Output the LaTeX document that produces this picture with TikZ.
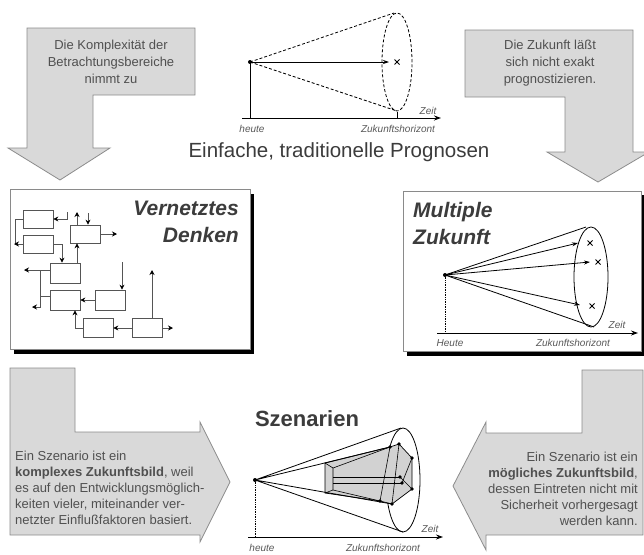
\documentclass[tikz,border=0pt]{standalone}
\usepackage{fontspec}
\setmainfont{Liberation Sans}
\usetikzlibrary{arrows.meta}
\definecolor{arrowfill}{HTML}{D9D9D9}
\definecolor{arrowline}{HTML}{8C8C8C}
\definecolor{txt}{HTML}{505050}
\definecolor{boxline}{HTML}{8A8A8A}
\definecolor{ttlcol}{HTML}{3C3C3C}
\definecolor{wirecol}{HTML}{555555}
\tikzset{
  xmark/.pic={\draw[line width=0.8pt] (-2.5,-2.5) -- (2.5,2.5) (-2.5,2.5) -- (2.5,-2.5);}
}
\begin{document}
\begin{tikzpicture}[x=1pt,y=-1pt,
  bigarrow/.style={fill=arrowfill, draw=arrowline, line width=0.8pt, line join=miter},
  arrowtext/.style={font=\fontsize{13}{17}\selectfont, text=txt, inner sep=0pt},
  panel/.style={fill=white, draw=boxline, line width=0.8pt},
  blk/.style={draw=wirecol, fill=white, line width=0.7pt, minimum width=30pt, minimum height=18pt, inner sep=0pt},
  wire/.style={draw=wirecol, line width=0.7pt},
  warr/.style={wire, -{Stealth[length=5pt,width=5pt,color=black]}},
  axisline/.style={line width=0.9pt, -{Stealth[length=7pt,width=5pt]}},
  cone/.style={line width=0.8pt},
  lbl/.style={font=\itshape\fontsize{10}{12}\selectfont, text=gray!70!black, inner sep=0pt},
  ttl/.style={font=\bfseries\itshape\fontsize{21}{27}\selectfont, text=ttlcol, inner sep=0pt},
  dot/.style={fill=black}
]
\useasboundingbox (0,0) rectangle (644,554);
\fill[white] (0,0) rectangle (644,554);

% ---------------- big grey arrows ----------------
\draw[bigarrow] (27,28) -- (195,28) -- (195,95) -- (93,95) -- (93,148) -- (110,148) -- (60,180) -- (8,148) -- (27,148) -- cycle;
\node[arrowtext, align=center] (tlt) at (111,62) {Die Komplexität der\\Betrachtungsbereiche\\nimmt zu};

\draw[bigarrow] (465,30) -- (633,30) -- (633,152) -- (649,152) -- (598,182) -- (547,152) -- (565,152) -- (565,97) -- (465,97) -- cycle;
\node[arrowtext, align=center] (trt) at (550,63) {Die Zukunft läßt\\sich nicht exakt\\prognostizieren.};

\draw[bigarrow] (10,368) -- (75,368) -- (75,432) -- (200,432) -- (200,422) -- (230,482) -- (200,542) -- (200,535) -- (10,535) -- cycle;
\node[arrowtext, align=left, anchor=west, font=\fontsize{13}{16}\selectfont] (blt) at (15,488) {Ein Szenario ist ein\\\textbf{komplexes Zukunftsbild}, weil\\es auf den Entwicklungsmöglich-\\keiten vieler, miteinander ver-\\netzter Einflußfaktoren basiert.};

\draw[bigarrow] (643,370) -- (643,535) -- (486,535) -- (486,550) -- (453,486) -- (486,422) -- (486,433) -- (582,433) -- (582,370) -- cycle;
\node[arrowtext, align=right, anchor=east, font=\fontsize{13}{16}\selectfont] (brt) at (638,489) {Ein Szenario ist ein\\\textbf{mögliches Zukunftsbild},\\dessen Eintreten nicht mit\\Sicherheit vorhergesagt\\werden kann.};

% ---------------- top chart ----------------
\coordinate (t0) at (250,62);
\coordinate (tE) at (397,62);
\coordinate (tTop) at (394,13);
\coordinate (tBot) at (397,111);
\coordinate (tAxS) at (242,118);
\coordinate (tAxE) at (441,118);
\coordinate (tFoot) at (250,118);
\coordinate (tTickA) at (397,112);
\coordinate (tTickB) at (397,118);
\coordinate (tHead) at (389,62);
\draw[densely dashed, line width=0.8pt] (tE) ellipse [x radius=15pt, y radius=49pt];
\draw[densely dashed, line width=0.8pt] (t0) -- (tTop) (t0) -- (tBot);
\draw[cone, -{Stealth[length=6pt,width=4pt]}] (t0) -- (tHead);
\pic at (tE) {xmark};
\draw[line width=0.8pt] (t0) -- (tFoot);
\draw[line width=0.8pt] (tTickA) -- (tTickB);
\draw[axisline] (tAxS) -- (tAxE);
\fill (t0) circle (2pt);
\node[lbl] (th) at (252,129) {heute};
\node[lbl] (tz) at (398,129) {Zukunftshorizont};
\node[lbl] (tzeit) at (428,111) {Zeit};
\node[font=\fontsize{20.5}{24}\selectfont, text=ttlcol, inner sep=0pt] (ttitle) at (339,152) {Einfache, traditionelle Prognosen};

% ---------------- panel 1: Vernetztes Denken ----------------
\fill[black] (14,194) rectangle (254,354);
\draw[panel] (10,189) rectangle (250,349);
\node[ttl, align=right, anchor=north east] (vd) at (239,201) {Vernetztes\\Denken};

\node[blk] (n1) at (38,219) {};
\node[blk] (n2) at (38,244) {};
\node[blk] (n3) at (85,234) {};
\node[blk, minimum height=20pt] (n4) at (65,273) {};
\node[blk, minimum height=20pt] (n5) at (65,300) {};
\node[blk, minimum height=20pt] (n6) at (110,300) {};
\node[blk, minimum height=19pt] (n7) at (98,328) {};
\node[blk, minimum height=19pt] (n8) at (147,328) {};

\coordinate (c1) at (67,212);
\coordinate (c2) at (77,212);
\coordinate (c3) at (88,213);
\coordinate (c4) at (117,234);
\coordinate (c5) at (15,219);
\coordinate (c6) at (14,244);
\coordinate (c7) at (62,244);
\coordinate (c8) at (24,270);
\coordinate (c9) at (40,296);
\coordinate (c10) at (32,307);
\coordinate (c11) at (122,262);
\coordinate (c12) at (75,328);
\coordinate (c13) at (173,328);
\coordinate (c14) at (152,270);

\draw[warr] (c1) |- (n1.east);
\draw[warr] (n3.north -| c2) -- (c2);
\draw[warr] (c3) -- (n3.north -| c3);
\draw[warr] (n3.east) -- (c4);
\draw[wire] (n1.west) -- (c5) -- (c5 |- n2.west);
\draw[warr] (n2.west) -- (c6);
\draw[warr] (n2.east) -- (c7) -- (n4.north -| c7);
\draw[warr] (n4.north -| c2) -- (n3.south -| c2);
\draw[warr] (n4.west |- c8) -- (c8);
\draw[wire] (n5.west |- c9) -- (c9) -- (c9 |- c8);
\draw[warr] (c9) |- (c10);
\draw[warr] (c11) -- (n6.north -| c11);
\draw[warr] (n6.west) -- (n5.east);
\draw[warr] (n7.west) -- (c12) -- (n5.south -| c12);
\draw[warr] (n8.west) -- (n7.east);
\draw[warr] (n8.east) -- (c13);
\draw[warr] (n8.north -| c14) -- (c14);

% ---------------- panel 2: Multiple Zukunft ----------------
\fill[black] (407,195) rectangle (646,356);
\draw[panel] (403,191) rectangle (641,351);
\node[ttl, align=left, anchor=north west] (mz) at (413,202) {Multiple\\Zukunft};

\coordinate (m0) at (445,275);
\coordinate (mE) at (591,277);
\coordinate (mTop) at (586,227);
\coordinate (mBot) at (594,327);
\coordinate (mA1) at (578,243);
\coordinate (mX1) at (590,243);
\coordinate (mA2) at (590,262);
\coordinate (mX2) at (598,262);
\coordinate (mA3) at (580,305);
\coordinate (mX3) at (592,306);
\coordinate (mFoot) at (445,333);
\coordinate (mAxS) at (437,333);
\coordinate (mAxE) at (638,333);
\draw[line width=0.8pt] (mE) ellipse [x radius=17pt, y radius=50pt];
\draw[cone] (m0) -- (mTop) (m0) -- (mBot);
\draw[cone, -{Stealth[length=6pt,width=4pt]}] (m0) -- (mA1);
\draw[cone, -{Stealth[length=6pt,width=4pt]}] (m0) -- (mA2);
\draw[cone, -{Stealth[length=6pt,width=4pt]}] (m0) -- (mA3);
\pic at (mX1) {xmark};
\pic at (mX2) {xmark};
\pic at (mX3) {xmark};
\draw[densely dotted, line width=0.7pt] (m0) -- (mFoot);
\draw[axisline] (mAxS) -- (mAxE);
\fill (m0) circle (2pt);
\node[lbl] (mh) at (450,343) {Heute};
\node[lbl] (mzh) at (573,343) {Zukunftshorizont};
\node[lbl] (mzeit) at (617,325) {Zeit};

% ---------------- Szenarien ----------------
\node[font=\bfseries\fontsize{22}{26}\selectfont, text=ttlcol, inner sep=0pt] (sz) at (307,419) {Szenarien};

\coordinate (s0) at (255,480);
\coordinate (sE) at (403,480);
\coordinate (sTop) at (401,428);
\coordinate (sBot) at (403,532);
\coordinate (sFoot) at (255,537);
\coordinate (sAxS) at (248,537);
\coordinate (sAxE) at (443,537);
\coordinate (p1) at (325,463);
\coordinate (p2) at (390,447);
\coordinate (p3) at (399,444);
\coordinate (p4) at (412,458);
\coordinate (p5) at (400,477);
\coordinate (p6) at (402,483);
\coordinate (p7) at (412,489);
\coordinate (p8) at (392,504);
\coordinate (p9) at (380,501);
\coordinate (p10) at (325,493);
\coordinate (q1) at (333,468);
\coordinate (q2) at (333,490);
\draw[line width=0.8pt] (sE) ellipse [x radius=17pt, y radius=52pt];
\filldraw[fill=gray!35, draw=black, line width=0.7pt] (p1) -- (p2) -- (p3) -- (p4) -- (p7) -- (p8) -- (p9) -- (p10) -- cycle;
\draw[line width=0.6pt] (q1) -- (q2) (p1) -- (q1) (p10) -- (q2);
\draw[line width=0.6pt] (q1) -- (p2) (q2) -- (p9);
\draw[line width=0.6pt] (q1 |- p5) -- (p5) (q2 |- p6) -- (p6);
\draw[line width=0.6pt] (p2) -- (p9) (p3) -- (p8) (p4) -- (p6) (p5) -- (p7);
\foreach \p in {p2,p3,p4,p5,p6,p7,p8,p9} \fill (\p) circle (1.8pt);
\draw[cone] (s0) -- (sTop) (s0) -- (sBot) (s0) -- (p2) (s0) -- (p8);
\draw[densely dotted, line width=0.7pt] (s0) -- (sFoot);
\draw[axisline] (sAxS) -- (sAxE);
\fill (s0) circle (2pt);
\node[lbl] (sh) at (262,548) {heute};
\node[lbl] (szh) at (383,548) {Zukunftshorizont};
\node[lbl] (szeit) at (430,529) {Zeit};
\end{tikzpicture}
\end{document}
